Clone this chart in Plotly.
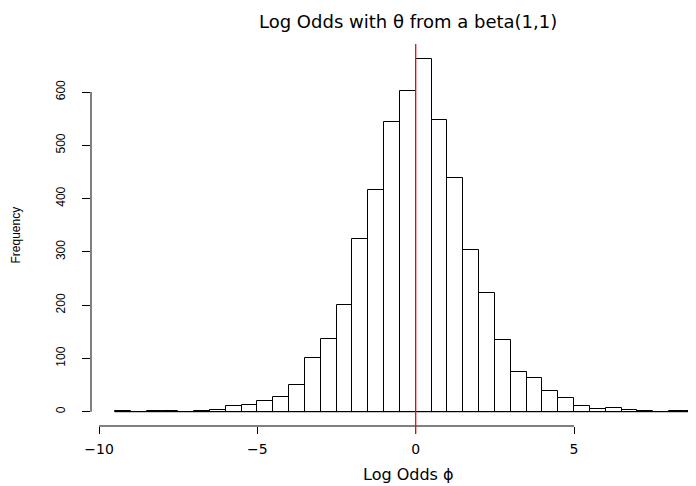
import plotly.graph_objects as go

# Histogram bins (left edges, width 0.5) and counts
bin_left = [-9.5, -9.0, -8.5, -8.0, -7.5, -7.0, -6.5, -6.0, -5.5, -5.0, -4.5, -4.0,
            -3.5, -3.0, -2.5, -2.0, -1.5, -1.0, -0.5, 0.0, 0.5, 1.0, 1.5, 2.0,
            2.5, 3.0, 3.5, 4.0, 4.5, 5.0, 5.5, 6.0, 6.5, 7.0, 7.5, 8.0, 8.5]
counts = [1, 0, 1, 1, 0, 1, 4, 11, 13, 21, 27, 51,
          101, 136, 201, 325, 416, 543, 601, 662, 548, 438, 303, 222,
          134, 75, 64, 38, 25, 10, 5, 7, 3, 1, 0, 1, 1]
bin_width = 0.5
x_ticks = [-10, -5, 0, 5]
y_ticks = [0, 100, 200, 300, 400, 500, 600]
vline_x = 0

title_text = "Log Odds with θ from a beta(1,1)"
x_title = "Log Odds ϕ"
y_title = "Frequency"

centers = [b + bin_width / 2 for b in bin_left]

# the page body has an 8px margin; size the figure so it ends at the window edge
OFF = 8
W, H = 696 - OFF, 486 - OFF
L, R, T, B = 91 - OFF, 0, 45 - OFF, 60
pw = W - L - R
ph = H - T - B


def px_x(p):
    return (p - OFF - L) / pw


def px_y(p):
    return (H - B - (p - OFF)) / ph


fig = go.Figure()
fig.add_trace(go.Bar(
    x=centers, y=counts, width=[bin_width] * len(counts),
    marker=dict(color="white", line=dict(color="black", width=1)),
    hoverinfo="x+y", showlegend=False,
))

shapes = []
shapes.append(dict(type="line", xref="x", yref="y", x0=bin_left[0],
                   x1=bin_left[-1] + bin_width, y0=0, y1=0,
                   line=dict(color="black", width=1)))
shapes.append(dict(type="line", xref="x", yref="paper", x0=x_ticks[0], x1=x_ticks[-1],
                   y0=0, y1=0, line=dict(color="black", width=1)))
shapes.append(dict(type="line", xref="paper", yref="y", x0=0, x1=0,
                   y0=y_ticks[0], y1=y_ticks[-1], line=dict(color="black", width=1)))
shapes.append(dict(type="line", xref="x", yref="paper", x0=vline_x, x1=vline_x,
                   y0=px_y(434), y1=px_y(44), line=dict(color="#dd1111", width=1.3)))

annotations = [
    dict(text=x_title, xref="paper", yref="paper", x=px_x(408), y=px_y(485.5),
         xanchor="center", yanchor="bottom", showarrow=False,
         font=dict(family="DejaVu Sans", size=16, color="black")),
    dict(text=y_title, xref="paper", yref="paper", x=px_x(15), y=px_y(235.5),
         xanchor="center", yanchor="middle", showarrow=False, textangle=-90,
         font=dict(family="Liberation Sans", size=12, color="black")),
    dict(text=title_text, xref="paper", yref="paper",
         x=px_x(407.5), y=px_y(8.5), xanchor="center", yanchor="top",
         showarrow=False, font=dict(family="DejaVu Sans", size=18, color="black")),
]

fig.update_layout(
    width=W, height=H, margin=dict(l=L, r=R, t=T, b=B, pad=0),
    paper_bgcolor="white", plot_bgcolor="white",
    bargap=0, shapes=shapes, annotations=annotations,
    xaxis=dict(range=[-10.253, 8.851], tickvals=x_ticks, ticks="outside", ticklen=7,
               tickcolor="black", tickwidth=1, showgrid=False, zeroline=False,
               showline=False, tickfont=dict(family="DejaVu Sans", size=14, color="black"),
               ticklabelstandoff=3, fixedrange=True),
    yaxis=dict(range=[-26.8, 688.2], tickvals=y_ticks, ticks="outside", ticklen=8,
               tickcolor="black", tickwidth=1, showgrid=False, zeroline=False,
               showline=False, tickangle=-90,
               tickfont=dict(family="Liberation Sans", size=12, color="black"),
               ticklabelstandoff=12, fixedrange=True),
)

fig.write_html("out.html")
